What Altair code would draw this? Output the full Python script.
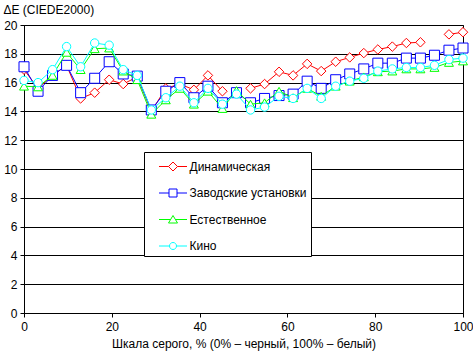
import altair as alt
import pandas as pd

# Grey level, %
gray = [0, 3.2, 6.5, 9.7, 12.9, 16.1, 19.4, 22.6, 25.8, 29.0, 32.3, 35.5, 38.7, 41.9,
        45.2, 48.4, 51.6, 54.8, 58.1, 61.3, 64.5, 67.7, 71.0, 74.2, 77.4, 80.6, 83.9,
        87.1, 90.3, 93.5, 96.8, 100]

series_names = ["Динамическая", "Заводские установки", "Естественное", "Кино"]

dynamic = [16.9, 15.6, 16.5, 17.2, 14.9, 15.3, 16.2, 15.9, 16.4, 14.0, 15.6, 15.9, 15.5,
           16.5, 15.4, None, 15.6, 15.9, 16.75, 16.5, 17.3, 16.8, 17.45, 17.75, 18.05,
           18.3, 18.5, 18.75, 18.8, None, 19.35, 19.5]
factory = [17.1, 15.4, 16.5, 17.2, 15.3, 16.3, 17.45, 16.6, 16.45, 14.1, 15.4, 16.0, 14.95,
           15.75, 14.6, 15.3, 14.6, 14.9, 15.1, 15.2, 16.1, 15.6, 16.2, 16.6, 16.95, 17.35,
           17.35, 17.7, 17.7, 17.9, 18.25, 18.4]
natural = [15.75, 15.7, 16.5, 18.1, 16.9, 18.35, 18.4, 16.8, 16.2, 13.8, 14.8, 15.6, 14.5,
           15.4, 14.2, 15.45, 14.5, 14.6, 15.4, 14.95, 15.6, 15.05, 15.75, 16.1, 16.4,
           16.75, 16.8, 16.95, 16.95, 17.05, 17.4, 17.5]
cinema = [16.15, 16.0, 16.9, 18.5, 17.1, 18.75, 18.6, 16.9, 16.5, 14.1, 14.95, 15.75, 14.6,
          15.6, 14.5, 15.2, 14.1, 14.3, 15.05, 14.9, 15.6, 14.9, 15.75, 16.1, 16.3, 16.8,
          16.95, 17.05, 17.05, 17.2, 17.6, 17.7]

colors = ["#FF0000", "#0000FF", "#00FF00", "#00FFFF"]
marker_shapes = ["diamond", "square", "triangle-up", "circle"]
marker_sizes = [90, 100, 80, 70]
legend_paths = [
    "M-1.4,0H-0.45M0.45,0H1.4M0,-0.45L0.45,0L0,0.45L-0.45,0Z",
    "M-1.4,0H-0.4M0.4,0H1.4M-0.4,-0.4H0.4V0.4H-0.4Z",
    "M-1.4,0H-0.25M0.25,0H1.4M0,-0.4L0.45,0.35H-0.45Z",
    "M-1.4,0H-0.35M0.35,0H1.4M-0.35,0A0.35,0.35,0,1,0,0.35,0A0.35,0.35,0,1,0,-0.35,0Z",
]

rows = []
for name, vals in zip(series_names, [dynamic, factory, natural, cinema]):
    for g, v in zip(gray, vals):
        rows.append({"series": name, "x": g, "y": v})
df = pd.DataFrame(rows)

FONT = "Liberation Sans"

x_enc = alt.X("x:Q", scale=alt.Scale(domain=[0, 100], nice=False),
              axis=alt.Axis(values=[0, 20, 40, 60, 80, 100], grid=False, labelFlush=False,
                            title="Шкала серого, % (0% – черный, 100% – белый)",
                            tickSize=4, labelPadding=4, titlePadding=6))
y_enc = alt.Y("y:Q", scale=alt.Scale(domain=[0, 20], nice=False),
              axis=alt.Axis(values=list(range(0, 21, 2)), grid=True, tickSize=4,
                            labelOverlap=False, labelPadding=3,
                            title="ΔE (CIEDE2000)", titleAngle=0,
                            titleAlign="left", titleBaseline="alphabetic",
                            titleX=-21, titleY=-12))

base = alt.Chart(df)
layers = []
for name, c, shp, sz in zip(series_names, colors, marker_shapes, marker_sizes):
    sub = base.transform_filter(alt.datum.series == name)
    layers.append(sub.mark_line(color=c, strokeWidth=1,
                                invalid="break-paths-filter-domains").encode(x=x_enc, y=y_enc))
    layers.append(sub.mark_point(shape=shp, size=sz, filled=True, fill="white",
                                 stroke=c, strokeWidth=1, opacity=1).encode(x=x_enc, y=y_enc))

leg = alt.Legend(orient="none", legendX=120, legendY=127, title=None,
                 fillColor="white", strokeColor="black", padding=4,
                 symbolOffset=14.5, symbolSize=400, symbolStrokeWidth=1,
                 symbolFillColor="white", symbolOpacity=1, labelOffset=6,
                 rowPadding=9.5, labelFont=FONT, labelFontSize=12, labelColor="black")

legend_layer = base.transform_filter(alt.datum.y < -1000).mark_point(
    filled=True, fill="white", strokeWidth=1
).encode(
    x=x_enc, y=y_enc,
    stroke=alt.Stroke("series:N", scale=alt.Scale(domain=series_names, range=colors),
                      legend=leg, sort=series_names),
    shape=alt.Shape("series:N", scale=alt.Scale(domain=series_names, range=legend_paths),
                    legend=leg, sort=series_names),
)
layers.append(legend_layer)

chart = alt.layer(*layers).properties(
    width=439, height=288,
    padding={"left": 24, "top": 25, "right": 10, "bottom": 40},
    autosize="none", background="white",
).configure_view(stroke="black", strokeWidth=1).configure_axis(
    domainColor="black", tickColor="black", labelColor="black", titleColor="black",
    gridColor="black", gridOpacity=1, gridWidth=1, labelFont=FONT, titleFont=FONT,
    labelFontSize=12, titleFontSize=12, titleFontWeight="normal", domainWidth=1,
    tickWidth=1,
)

chart.save("out.html", embed_options={"renderer": "svg", "actions": False})
